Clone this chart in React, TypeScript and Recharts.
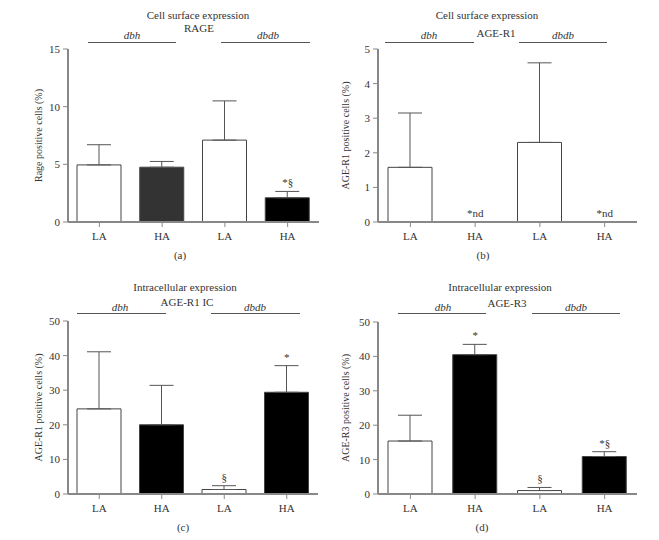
import React from 'react';
import {
  ComposedChart,
  Bar,
  Line,
  Cell,
  XAxis,
  YAxis,
  ErrorBar,
  LabelList,
} from 'recharts';

const FONT = '"Liberation Serif", "DejaVu Serif", serif';
const TEXT = '#333';
const AXIS = '#888';

const ids = ['dbhLA', 'dbhHA', 'dbdbLA', 'dbdbHA'];
const tickLabels = ['LA', 'HA', 'LA', 'HA'];

// panel (a) RAGE
const rageMean = [4.95, 4.75, 7.1, 2.1];
const rageTop = [6.7, 5.25, 10.5, 2.65];
const rageNotes = ['', '', '', '*§'];

// panel (b) AGE-R1 surface
const r1Mean = [1.58, 0, 2.3, 0];
const r1Top = [3.15, 0, 4.6, 0];
const r1Notes = ['', '*nd', '', '*nd'];

// panel (c) AGE-R1 intracellular
const r1icMean = [24.6, 20.0, 1.3, 29.4];
const r1icTop = [41.1, 31.4, 2.4, 37.1];
const r1icNotes = ['', '', '§', '*'];

// panel (d) AGE-R3
const r3Mean = [15.4, 40.5, 1.0, 10.9];
const r3Top = [22.9, 43.5, 1.9, 12.3];
const r3Notes = ['', '*', '§', '*§'];

const fillsA = ['#fff', '#333', '#fff', '#000'];
const fillsB = ['#fff', '#000', '#fff', '#000'];

const buildRows = (mean: number[], top: number[], notes: string[]) =>
  ids.map((id, i) => ({
    id,
    mean: mean[i],
    err: [0, Math.max(0, top[i] - mean[i])],
    top: top[i],
    note: notes[i],
  }));

const NoteLabel = (props: any) => {
  const x = props.x ?? props.viewBox?.x;
  const y = props.y ?? props.viewBox?.y;
  if (!props.value) return null;
  return (
    <text
      x={x}
      y={y - 5}
      textAnchor="middle"
      fontFamily={FONT}
      fontSize={11}
      fill={TEXT}
    >
      {props.value}
    </text>
  );
};

interface PanelProps {
  left: number;
  top: number;
  rows: any[];
  fills: string[];
  domain: [number, number];
  ticks: number[];
  yLabel: string;
  yWidth: number;
  labelDx: number;
  margin: { top: number; right: number; bottom: number; left: number };
}

function Panel({ left, top, rows, fills, domain, ticks, yLabel, yWidth, labelDx, margin }: PanelProps) {
  return (
    <div style={{ position: 'absolute', left, top }}>
      <ComposedChart width={330} height={270} data={rows} margin={margin}>
        <XAxis
          dataKey="id"
          tickFormatter={(v: string) => tickLabels[ids.indexOf(v)]}
          axisLine={{ stroke: AXIS, strokeWidth: 2 }}
          tickLine={{ stroke: AXIS }}
          tickSize={5}
          tickMargin={5}
          height={30}
          tick={{ fontFamily: FONT, fontSize: 11, fill: TEXT }}
        />
        <YAxis
          domain={domain}
          ticks={ticks}
          width={yWidth}
          axisLine={{ stroke: AXIS, strokeWidth: 2 }}
          tickLine={{ stroke: AXIS }}
          tickSize={5}
          tickMargin={3}
          tick={{ fontFamily: FONT, fontSize: 11, fill: TEXT }}
          label={{
            value: yLabel,
            angle: -90,
            position: 'center',
            dx: labelDx,
            style: { fontFamily: FONT, fontSize: 10, fill: TEXT },
          }}
        />
        <Bar dataKey="mean" barSize={44} stroke="#444" strokeWidth={1} isAnimationActive={false}>
          {rows.map((r, i) => (
            <Cell key={r.id} fill={fills[i]} />
          ))}
          <ErrorBar dataKey="err" width={12} stroke="#555" strokeWidth={1} direction="y" />
        </Bar>
        <Line
          dataKey="top"
          stroke="none"
          dot={false}
          activeDot={false}
          isAnimationActive={false}
        >
          <LabelList dataKey="note" content={NoteLabel} />
        </Line>
      </ComposedChart>
    </div>
  );
}

const Txt = ({ x, y, children, italic }: { x: number; y: number; children: React.ReactNode; italic?: boolean }) => (
  <div
    style={{
      position: 'absolute',
      left: x - 100,
      top: y - 7,
      width: 200,
      textAlign: 'center',
      fontFamily: FONT,
      fontSize: 11,
      lineHeight: '14px',
      color: TEXT,
      fontStyle: italic ? 'italic' : 'normal',
      whiteSpace: 'nowrap',
    }}
  >
    {children}
  </div>
);

const HLine = ({ x1, x2, y }: { x1: number; x2: number; y: number }) => (
  <div style={{ position: 'absolute', left: x1, top: y, width: x2 - x1, height: 1, background: '#555' }} />
);

export default function App() {
  return (
    <div style={{ position: 'absolute', left: 0, top: 0, width: 659, height: 540, background: '#fff' }}>
      <Panel
        left={0}
        top={0}
        rows={buildRows(rageMean, rageTop, rageNotes)}
        fills={fillsA}
        domain={[0, 15]}
        ticks={[0, 5, 10, 15]}
        yLabel="Rage positive cells (%)"
        yWidth={68}
        labelDx={4}
        margin={{ top: 49, right: 11, bottom: 18, left: 0 }}
      />
      <Panel
        left={330}
        top={0}
        rows={buildRows(r1Mean, r1Top, r1Notes)}
        fills={fillsB}
        domain={[0, 5]}
        ticks={[0, 1, 2, 3, 4, 5]}
        yLabel="AGE-R1 positive cells (%)"
        yWidth={48}
        labelDx={-9}
        margin={{ top: 49, right: 23, bottom: 18, left: 0 }}
      />
      <Panel
        left={0}
        top={270}
        rows={buildRows(r1icMean, r1icTop, r1icNotes)}
        fills={fillsB}
        domain={[0, 50]}
        ticks={[0, 10, 20, 30, 40, 50]}
        yLabel="AGE-R1 positive cells (%)"
        yWidth={68}
        labelDx={4}
        margin={{ top: 51, right: 12, bottom: 16, left: 0 }}
      />
      <Panel
        left={330}
        top={270}
        rows={buildRows(r3Mean, r3Top, r3Notes)}
        fills={fillsB}
        domain={[0, 50]}
        ticks={[0, 10, 20, 30, 40, 50]}
        yLabel="AGE-R3 positive cells (%)"
        yWidth={48}
        labelDx={-9}
        margin={{ top: 52, right: 23, bottom: 16, left: 0 }}
      />

      {/* panel (a) */}
      <Txt x={198} y={15}>Cell surface expression</Txt>
      <Txt x={199} y={28}>RAGE</Txt>
      <Txt x={132} y={35} italic>dbh</Txt>
      <Txt x={268} y={35} italic>dbdb</Txt>
      <HLine x1={88} x2={176} y={42} />
      <HLine x1={221} x2={310} y={42} />
      <Txt x={180} y={255}>(a)</Txt>

      {/* panel (b) */}
      <Txt x={487} y={15}>Cell surface expression</Txt>
      <Txt x={496} y={33}>AGE-R1</Txt>
      <Txt x={429} y={35} italic>dbh</Txt>
      <Txt x={563} y={35} italic>dbdb</Txt>
      <HLine x1={385} x2={474} y={42} />
      <HLine x1={519} x2={607} y={42} />
      <Txt x={483} y={255}>(b)</Txt>

      {/* panel (c) */}
      <Txt x={185} y={287}>Intracellular expression</Txt>
      <Txt x={187} y={302}>AGE-R1 IC</Txt>
      <Txt x={120} y={307} italic>dbh</Txt>
      <Txt x={255} y={307} italic>dbdb</Txt>
      <HLine x1={77} x2={166} y={313} />
      <HLine x1={211} x2={300} y={313} />
      <Txt x={183} y={527}>(c)</Txt>

      {/* panel (d) */}
      <Txt x={500} y={287}>Intracellular expression</Txt>
      <Txt x={507} y={303}>AGE-R3</Txt>
      <Txt x={443} y={307} italic>dbh</Txt>
      <Txt x={576} y={307} italic>dbdb</Txt>
      <HLine x1={398} x2={486} y={313} />
      <HLine x1={532} x2={620} y={313} />
      <Txt x={482} y={527}>(d)</Txt>
    </div>
  );
}
